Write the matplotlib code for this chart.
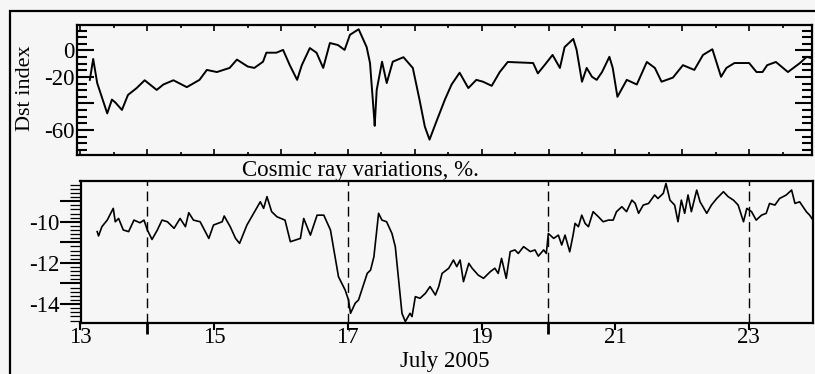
import numpy as np
import matplotlib
matplotlib.use("Agg")
import matplotlib.pyplot as plt
from matplotlib.patches import Rectangle
from matplotlib.ticker import MultipleLocator, FixedLocator, FixedFormatter, FuncFormatter

plt.rcParams['font.family'] = ['Liberation Serif', 'DejaVu Serif']
plt.rcParams['axes.unicode_minus'] = False

# Dst index (nT), days of July 2005
dst_day = [13.14, 13.19, 13.25, 13.40, 13.47, 13.52, 13.62, 13.71, 13.84, 13.96,
           14.14, 14.24, 14.39, 14.59, 14.78, 14.89, 15.04, 15.23, 15.34, 15.50,
           15.60, 15.73, 15.78, 15.93, 16.03, 16.13, 16.24, 16.31, 16.43, 16.53,
           16.63, 16.73, 16.85, 16.95, 17.03, 17.16, 17.28, 17.33, 17.39, 17.40,
           17.43, 17.51, 17.58, 17.67, 17.83, 17.97, 18.07, 18.15, 18.22, 18.33,
           18.45, 18.55, 18.67, 18.80, 18.92, 19.02, 19.15, 19.27, 19.39, 19.77,
           19.84, 19.94, 20.06, 20.17, 20.24, 20.37, 20.42, 20.50, 20.57, 20.65,
           20.72, 20.80, 20.91, 20.96, 21.03, 21.17, 21.32, 21.47, 21.59, 21.69,
           21.86, 22.01, 22.18, 22.31, 22.45, 22.58, 22.66, 22.78, 23.00, 23.11,
           23.20, 23.27, 23.40, 23.58, 23.76, 23.86, 23.94]
dst_val = [-22.2, -6.4, -24.6, -47.5, -37.1, -39.2, -44.9, -33.6, -28.4, -22.5,
           -29.8, -25.7, -22.5, -27.7, -22.2, -14.7, -16.3, -13.2, -6.9, -12.1,
           -13.2, -8.5, -1.7, -1.7, 0.4, -11.1, -22.2, -11.1, 1.8, -1.7,
           -13.2, 5.6, 4.1, 0.4, 11.8, 16.0, 2.5, -9.5, -49.6, -56.9,
           -29.8, -8.5, -24.6, -8.5, -5.1, -13.2, -37.1, -57.5, -67.3, -52.7,
           -37.1, -25.7, -16.8, -28.4, -22.2, -23.6, -26.7, -16.3, -8.7, -9.5,
           -17.3, -11.1, -3.4, -13.2, 2.5, 8.7, 0.4, -23.6, -13.2, -19.9,
           -22.2, -16.3, -4.8, -13.2, -35.0, -22.2, -25.7, -8.7, -13.2, -23.6,
           -20.5, -11.1, -14.7, -3.4, 0.9, -19.9, -13.2, -9.5, -9.5, -16.3,
           -16.3, -11.1, -8.7, -16.3, -9.5, -4.8, -5.9]

# cosmic ray variations (%)
cr_day = [13.25, 13.27, 13.32, 13.40, 13.49, 13.52, 13.57, 13.64, 13.72, 13.80,
          13.89, 13.95, 14.00, 14.07, 14.15, 14.22, 14.30, 14.40, 14.49, 14.57,
          14.62, 14.69, 14.79, 14.92, 14.99, 15.12, 15.15, 15.24, 15.32, 15.38,
          15.49, 15.59, 15.69, 15.74, 15.79, 15.86, 15.94, 16.06, 16.14, 16.29,
          16.34, 16.44, 16.54, 16.64, 16.74, 16.86, 16.96, 17.01, 17.04, 17.11,
          17.16, 17.29, 17.34, 17.39, 17.46, 17.51, 17.58, 17.66, 17.71, 17.76,
          17.81, 17.86, 17.93, 17.96, 18.01, 18.08, 18.16, 18.23, 18.31, 18.36,
          18.41, 18.51, 18.58, 18.63, 18.68, 18.73, 18.81, 18.86, 18.95, 19.03,
          19.13, 19.20, 19.25, 19.30, 19.37, 19.43, 19.50, 19.55, 19.63, 19.73,
          19.80, 19.85, 19.93, 19.97, 20.00, 20.08, 20.15, 20.20, 20.25, 20.32,
          20.37, 20.40, 20.45, 20.50, 20.55, 20.60, 20.67, 20.75, 20.82, 20.90,
          20.97, 21.02, 21.10, 21.17, 21.25, 21.30, 21.35, 21.42, 21.50, 21.59,
          21.64, 21.72, 21.76, 21.82, 21.89, 21.94, 21.99, 22.04, 22.09, 22.14,
          22.22, 22.27, 22.37, 22.44, 22.52, 22.62, 22.69, 22.77, 22.84, 22.92,
          22.97, 23.04, 23.11, 23.19, 23.26, 23.31, 23.39, 23.46, 23.56, 23.64,
          23.69, 23.76, 23.81, 23.86, 23.91, 23.96]
cr_val = [-10.48, -10.69, -10.24, -9.92, -9.35, -10.00, -9.84, -10.40, -10.48, -9.92,
          -10.05, -9.92, -10.40, -10.86, -10.40, -9.92, -10.00, -10.32, -9.84, -10.24,
          -9.56, -9.92, -10.00, -10.81, -10.16, -10.00, -9.72, -10.24, -10.81, -11.05,
          -10.16, -9.59, -9.03, -9.35, -8.78, -9.51, -9.76, -9.92, -10.97, -10.81,
          -9.84, -10.65, -9.68, -9.68, -10.40, -12.67, -13.32, -13.80, -14.45, -13.96,
          -13.80, -12.51, -12.35, -11.70, -9.59, -9.92, -10.00, -10.57, -11.21, -12.83,
          -14.45, -14.85, -14.45, -14.61, -13.64, -13.72, -13.48, -13.15, -13.56, -13.15,
          -12.51, -12.26, -11.86, -12.18, -11.86, -12.91, -12.02, -12.26, -12.59, -12.75,
          -12.43, -12.26, -12.51, -11.78, -12.75, -11.45, -11.37, -11.54, -11.21, -11.45,
          -11.37, -11.67, -11.37, -11.54, -10.57, -10.81, -10.65, -11.13, -10.65, -11.46,
          -10.65, -10.08, -10.24, -9.68, -10.08, -10.24, -9.51, -9.76, -10.00, -9.92,
          -9.92, -9.51, -9.27, -9.51, -8.95, -9.11, -9.59, -9.19, -9.11, -8.70,
          -8.87, -8.62, -8.14, -8.95, -9.19, -10.00, -8.95, -9.59, -8.70, -9.51,
          -8.46, -9.03, -9.59, -9.19, -8.87, -8.54, -8.78, -8.95, -9.19, -10.00,
          -9.35, -9.51, -9.92, -9.68, -9.59, -9.11, -9.19, -8.87, -8.70, -8.46,
          -9.11, -9.03, -9.27, -9.51, -9.68, -9.92]

dashed_days = [14, 17, 20, 23]
day_labels = [13, 15, 17, 19, 21, 23]

FS = 16.5

fig = plt.figure(figsize=(8.15, 3.74), dpi=100)
fig.patch.set_facecolor('#f6f6f6')

# outer frame
fig.patches.append(Rectangle((10 / 815, -0.2), 1.2, 1 - 11 / 374 + 0.2,
                             transform=fig.transFigure, fill=False,
                             edgecolor='black', lw=1.6, clip_on=False))

ax1 = fig.add_axes([77 / 815, 1 - 155 / 374, 735 / 815, 130 / 374])
ax2 = fig.add_axes([80.5 / 815, 1 - 323 / 374, 732.5 / 815, 142 / 374])

for ax in (ax1, ax2):
    ax.set_facecolor('#f6f6f6')
    for s in ax.spines.values():
        s.set_linewidth(1.6)

# top panel
ax1.plot(dst_day, dst_val, color='black', lw=1.4)
ax1.set_xlim(12.948, 23.94)
ax1.set_ylim(-78.9, 19.2)
ax1.yaxis.set_major_locator(FixedLocator([-60, -40, -20, 0]))
ax1.yaxis.set_major_formatter(FixedFormatter(['-60', '', '-20', '0']))
ax1.yaxis.set_minor_locator(MultipleLocator(5))
ax1.xaxis.set_major_locator(MultipleLocator(1))
ax1.xaxis.set_minor_locator(MultipleLocator(0.5))
ax1.tick_params(axis='y', which='both', direction='in', left=True, right=True,
                labelsize=FS, width=1.5, pad=2)
ax1.tick_params(axis='y', which='major', length=12)
ax1.tick_params(axis='y', which='minor', length=7)
ax1.tick_params(axis='x', which='both', direction='in', top=True, bottom=True,
                labelbottom=False, width=1.2)
ax1.tick_params(axis='x', which='major', length=4)
ax1.tick_params(axis='x', which='minor', length=2)

fig.text(26 / 815, 1 - 88 / 374, 'Dst index', rotation=90, ha='center',
         va='center', fontsize=FS - 0.5)
fig.text(360 / 815, 1 - 170 / 374, 'Cosmic ray variations, %.', ha='center',
         va='center', fontsize=FS)

# bottom panel
ax2.plot(cr_day, cr_val, color='black', lw=1.2)
for d in dashed_days:
    ax2.axvline(d, color='black', lw=1.0, dashes=(7, 4))
ax2.set_xlim(13.0, 23.96)
ax2.set_ylim(-14.92, -8.02)
ax2.xaxis.set_major_locator(FixedLocator(day_labels))
ax2.xaxis.set_minor_locator(FixedLocator(dashed_days))
ax2.set_xticklabels([str(d) for d in day_labels])
ax2.yaxis.set_major_locator(MultipleLocator(1))
ax2.yaxis.set_minor_locator(MultipleLocator(0.2))
ax2.yaxis.set_major_formatter(
    FuncFormatter(lambda v, p: '%d' % round(v) if round(v) % 2 == 0 else ''))
ax2.tick_params(axis='y', which='major', direction='out', length=15, width=1.5,
                labelsize=FS, pad=0)
ax2.tick_params(axis='y', which='minor', direction='out', length=8, width=0.9)
ax2.tick_params(axis='x', which='major', direction='out', length=5, width=1.5,
                labelsize=FS, pad=-2)
ax2.tick_params(axis='x', which='minor', direction='out', length=8, width=2.0)

fig.text(445 / 815, 1 - 361 / 374, 'July 2005', ha='center', va='center',
         fontsize=FS)

fig.savefig('out.png', dpi=100, facecolor=fig.get_facecolor())
